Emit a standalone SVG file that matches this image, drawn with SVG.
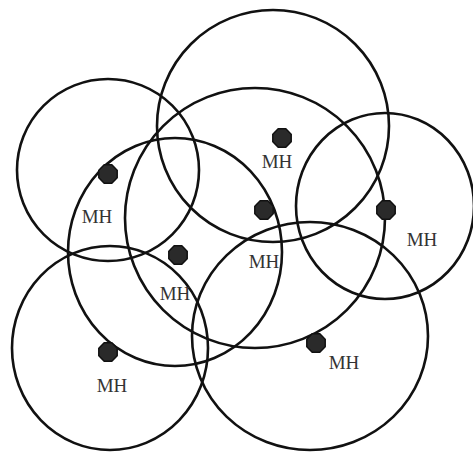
<svg xmlns="http://www.w3.org/2000/svg" xmlns:xlink="http://www.w3.org/1999/xlink" width="473" height="453" viewBox="0 0 473 453">
<style>
.cell{fill:none;stroke:#111;stroke-width:2.6}
.dot{fill:#2a2a2a;stroke:#111;stroke-width:1.5}
.lbl{font-family:"Liberation Serif",serif;font-size:19px;fill:#333;text-anchor:middle}
</style>
<defs>
<polygon id="oct" points="9.2,3.8 3.8,9.2 -3.8,9.2 -9.2,3.8 -9.2,-3.8 -3.8,-9.2 3.8,-9.2 9.2,-3.8"/>
</defs>
<rect width="473" height="453" fill="#fff"/>
<g id="cells">
<circle class="cell" cx="273" cy="126" r="116"/>
<circle class="cell" cx="108" cy="170" r="91"/>
<circle class="cell" cx="255" cy="218" r="130"/>
<ellipse class="cell" cx="175" cy="252" rx="107" ry="114"/>
<ellipse class="cell" cx="385" cy="206" rx="89" ry="93"/>
<ellipse class="cell" cx="110" cy="348" rx="98" ry="102"/>
<ellipse class="cell" cx="310" cy="336" rx="118" ry="114"/>
</g>
<g id="mh1"><use xlink:href="#oct" class="dot" x="108" y="174"/><text class="lbl" x="97" y="223">MH</text></g>
<g id="mh2"><use xlink:href="#oct" class="dot" x="282" y="138"/><text class="lbl" x="277" y="168">MH</text></g>
<g id="mh3"><use xlink:href="#oct" class="dot" x="264" y="210"/><text class="lbl" x="264" y="268">MH</text></g>
<g id="mh4"><use xlink:href="#oct" class="dot" x="386" y="210"/><text class="lbl" x="422" y="246">MH</text></g>
<g id="mh5"><use xlink:href="#oct" class="dot" x="178" y="255"/><text class="lbl" x="175" y="300">MH</text></g>
<g id="mh6"><use xlink:href="#oct" class="dot" x="108" y="352"/><text class="lbl" x="112" y="392">MH</text></g>
<g id="mh7"><use xlink:href="#oct" class="dot" x="316" y="343"/><text class="lbl" x="344" y="369">MH</text></g>
<g id="connectors"/>
</svg>
